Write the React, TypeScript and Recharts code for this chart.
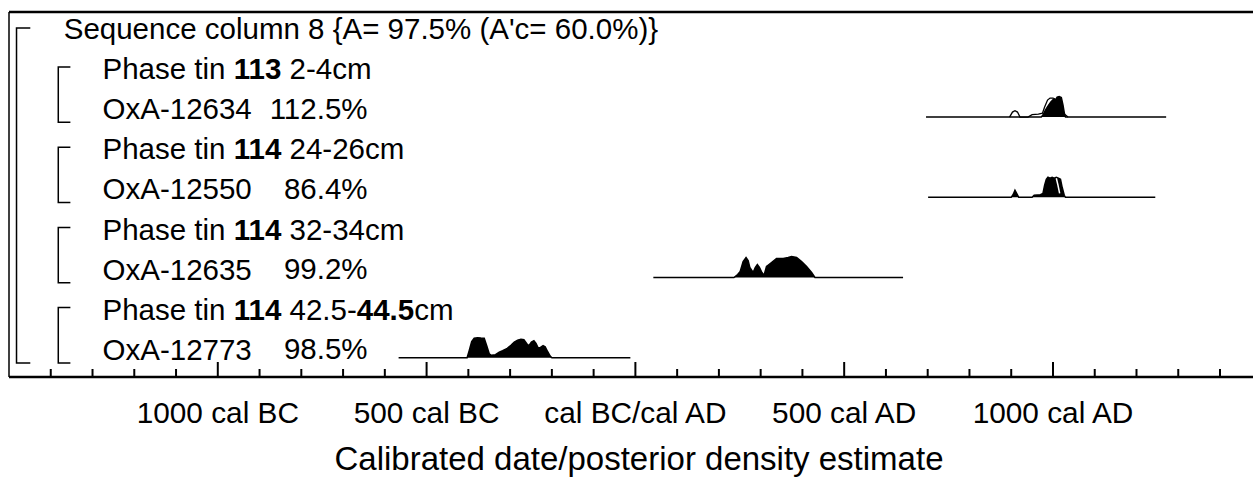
import React from 'react';
import { ComposedChart, Area, Line, Scatter, XAxis, YAxis, ReferenceLine } from 'recharts';

const FONT = '"Liberation Sans", Arial, Helvetica, sans-serif';
const ROW_FONT = 29.5;

// ---- axis ----
const X_MIN = -1500;
const X_MAX = 1479;
const tickYears = [
  -1400, -1300, -1200, -1100, -1000, -900, -800, -700, -600, -500, -400, -300, -200, -100, 0,
  100, 200, 300, 400, 500, 600, 700, 800, 900, 1000, 1100, 1200, 1300, 1400,
];
const tickLabelYears = [-1000, -500, 0, 500, 1000];
const tickLabelTexts = ['1000 cal BC', '500 cal BC', 'cal BC/cal AD', '500 cal AD', '1000 cal AD'];
const axisTitle = 'Calibrated date/posterior density estimate';

// ---- rows (label parts: [text, bold]) ----
const rowLabels: [string, boolean][][] = [
  [["Sequence column 8 {A= 97.5% (A'c= 60.0%)}", false]],
  [['Phase tin ', false], ['113', true], [' 2-4cm', false]],
  [['OxA-12634', false]],
  [['Phase tin ', false], ['114', true], [' 24-26cm', false]],
  [['OxA-12550', false]],
  [['Phase tin ', false], ['114', true], [' 32-34cm', false]],
  [['OxA-12635', false]],
  [['Phase tin ', false], ['114', true], [' 42.5-', false], ['44.5', true], ['cm', false]],
  [['OxA-12773', false]],
];
const rowLevels = [0, 1, 1, 1, 1, 1, 1, 1, 1];
const rowPercents = ['', '', '112.5%', '', '86.4%', '', '99.2%', '', '98.5%'];

// ---- distributions: [year, relative density] ----
const post12634: [number, number][] = [
  [696, 0], [972, 0], [976, 0.1], [982, 0.35], [988, 0.55], [995, 0.75], [1001, 0.88], [1006, 0.85],
  [1010, 1.0], [1015, 1.03], [1020, 0.98], [1024, 0.6], [1028, 0.1], [1030, 0], [1271, 0],
];
const prior12634: [number, number][] = [
  [896, 0], [903, 0.25], [909, 0.32], [915, 0.25], [921, 0], [940, 0], [950, 0.12], [965, 0.15],
  [975, 0.2], [980, 0.5], [987, 0.85], [993, 0.95], [1000, 0.95], [1005, 0.9], [1010, 0.6],
  [1016, 0.4], [1022, 0.3], [1030, 0.1], [1036, 0],
];
const post12550: [number, number][] = [
  [701, 0], [900, 0], [905, 0.15], [909, 0.35], [913, 0.2], [918, 0], [950, 0], [955, 0.1], [970, 0.13],
  [976, 0.2], [980, 0.6], [984, 0.9], [988, 1.0], [993, 0.95], [998, 1.0], [1003, 0.95], [1008, 1.0],
  [1013, 0.95], [1018, 0.9], [1022, 0.5], [1027, 0.1], [1030, 0], [1245, 0],
];
const prior12550: [number, number][] = [
  [1008, 0.95], [1012, 0.6], [1016, 0.2],
];
const post12635: [number, number][] = [
  [43, 0], [236, 0], [245, 0.15], [251, 0.3], [258, 0.8], [265, 1.0], [270, 0.85], [274, 0.5],
  [282, 0.25], [287, 0.5], [292, 0.65], [297, 0.5], [303, 0.25], [308, 0.1], [314, 0.55], [320, 0.65],
  [326, 0.75], [338, 0.95], [354, 0.95], [366, 1.0], [374, 1.05], [386, 1.0], [398, 0.8], [410, 0.55],
  [422, 0.25], [430, 0], [641, 0],
];
const post12773: [number, number][] = [
  [-567, 0], [-403, 0], [-398, 0.35], [-392, 0.8], [-386, 0.97], [-378, 1.0], [-370, 0.98], [-362, 0.97],
  [-356, 0.6], [-350, 0.2], [-345, 0.12], [-335, 0.15], [-326, 0.28], [-318, 0.35], [-308, 0.45],
  [-298, 0.62], [-290, 0.78], [-282, 0.88], [-274, 0.92], [-267, 0.9], [-260, 0.7], [-255, 0.6],
  [-249, 0.78], [-243, 0.85], [-238, 0.72], [-233, 0.5], [-228, 0.5], [-221, 0.6], [-216, 0.55],
  [-210, 0.3], [-204, 0.08], [-200, 0], [-12, 0],
];

// ---- layout in row units ----
const Y_MAX = 9.1;
const TOP_ROW = 8.7;
const BASE_OFF = 0.22;
const DENS_H = 0.5;
const rowV = (k: number) => TOP_ROW - k;

const toSeries = (pts: [number, number][], k: number) =>
  pts.map(([year, d]) => ({ year, y: rowV(k) - BASE_OFF + d * DENS_H }));

const SEQ_X = -1482;
const SEQ_FOOT = -1449;
const PH_X = -1382;
const PH_FOOT = -1353;
const bracket = (x: number, foot: number, top: number, bottom: number) => [
  { year: foot, y: top },
  { year: x, y: top },
  { year: x, y: bottom },
  { year: foot, y: bottom },
];
const seqBracket = bracket(SEQ_X, SEQ_FOOT, rowV(0), rowV(8) - 0.35);
const phaseBrackets = [1, 3, 5, 7].map((k) => bracket(PH_X, PH_FOOT, rowV(k) + 0.03, rowV(k + 1) - 0.35));

const labelData = rowLabels.map((parts, k) => ({
  year: rowLevels[k] === 0 ? -1369 : -1276,
  y: rowV(k),
  k,
}));

const LabelShape = (props: any) => {
  const { cx, cy, payload } = props;
  const k = payload.k;
  return (
    <g>
      <text x={cx} y={cy} dominantBaseline="central" fontFamily={FONT} fontSize={ROW_FONT} fill="#000">
        {rowLabels[k].map(([t, b], i) => (
          <tspan key={i} fontWeight={b ? 'bold' : 'normal'} style={{ whiteSpace: 'pre' }}>
            {t}
          </tspan>
        ))}
      </text>
      {rowPercents[k] ? (
        <text x={cx + 265} y={cy} dominantBaseline="central" textAnchor="end" fontFamily={FONT} fontSize={ROW_FONT} fill="#000">
          {rowPercents[k]}
        </text>
      ) : null}
    </g>
  );
};

const TickShape = (props: any) => {
  const { x, y, payload } = props;
  const v = payload.value;
  const idx = tickLabelYears.indexOf(v);
  const major = idx >= 0;
  return (
    <g>
      <line x1={x} x2={x} y1={y} y2={y - (major ? 15 : 8)} stroke="#000" strokeWidth={2} />
      {major ? (
        <text x={x} y={y + 35} textAnchor="middle" dominantBaseline="central" fontFamily={FONT} fontSize={29.8} fill="#000">
          {tickLabelTexts[idx]}
        </text>
      ) : null}
    </g>
  );
};

const TitleLabel = (props: any) => {
  const vb = props.viewBox || {};
  return (
    <text x={vb.x + vb.width / 2 + 8} y={458} textAnchor="middle" dominantBaseline="central" fontFamily={FONT} fontSize={33} fill="#000">
      {axisTitle}
    </text>
  );
};

export default function App() {
  const s12634p = toSeries(prior12634, 2);
  const s12634 = toSeries(post12634, 2);
  const s12550 = toSeries(post12550, 4);
  const s12550p = toSeries(prior12550, 4);
  const s12635 = toSeries(post12635, 6);
  const s12773 = toSeries(post12773, 8);
  return (
    <div style={{ position: 'absolute', left: 0, top: 0, width: 1253, height: 479, background: '#fff' }}>
      <ComposedChart width={1253} height={479} margin={{ top: 12, left: 9, right: 0, bottom: 10 }}>
        <XAxis
          type="number"
          dataKey="year"
          domain={[X_MIN, X_MAX]}
          allowDataOverflow
          ticks={tickYears}
          interval={0}
          tickSize={0}
          tickMargin={0}
          tickLine={false}
          axisLine={{ stroke: '#000', strokeWidth: 2.5 }}
          tick={<TickShape />}
          height={92}
          label={{ content: <TitleLabel /> } as any}
        />
        <YAxis type="number" dataKey="y" domain={[0, Y_MAX]} allowDataOverflow hide />
        <ReferenceLine y={Y_MAX} stroke="#000" strokeWidth={2.5} />
        <ReferenceLine x={X_MIN} stroke="#000" strokeWidth={1.5} />
        <Area data={s12634p} dataKey="y" type="linear" baseValue={rowV(2) - BASE_OFF} fill="#fff" fillOpacity={1} stroke="#000" strokeWidth={1.3} isAnimationActive={false} dot={false} activeDot={false} />
        <Area data={s12634} dataKey="y" type="linear" baseValue={rowV(2) - BASE_OFF} fill="#000" fillOpacity={1} stroke="#000" strokeWidth={1.5} isAnimationActive={false} dot={false} activeDot={false} />
        <Area data={s12550} dataKey="y" type="linear" baseValue={rowV(4) - BASE_OFF} fill="#000" fillOpacity={1} stroke="#000" strokeWidth={1.5} isAnimationActive={false} dot={false} activeDot={false} />
        <Line data={s12550p} dataKey="y" type="linear" stroke="#fff" strokeWidth={1.5} dot={false} activeDot={false} isAnimationActive={false} />
        <Area data={s12635} dataKey="y" type="linear" baseValue={rowV(6) - BASE_OFF} fill="#000" fillOpacity={1} stroke="#000" strokeWidth={1.5} isAnimationActive={false} dot={false} activeDot={false} />
        <Area data={s12773} dataKey="y" type="linear" baseValue={rowV(8) - BASE_OFF} fill="#000" fillOpacity={1} stroke="#000" strokeWidth={1.5} isAnimationActive={false} dot={false} activeDot={false} />
        <Line data={seqBracket} dataKey="y" type="linear" stroke="#000" strokeWidth={1.5} dot={false} activeDot={false} isAnimationActive={false} />
        {phaseBrackets.map((b, i) => (
          <Line key={i} data={b} dataKey="y" type="linear" stroke="#000" strokeWidth={1.5} dot={false} activeDot={false} isAnimationActive={false} />
        ))}
        <Scatter data={labelData} dataKey="y" shape={<LabelShape />} isAnimationActive={false} />
      </ComposedChart>
    </div>
  );
}
